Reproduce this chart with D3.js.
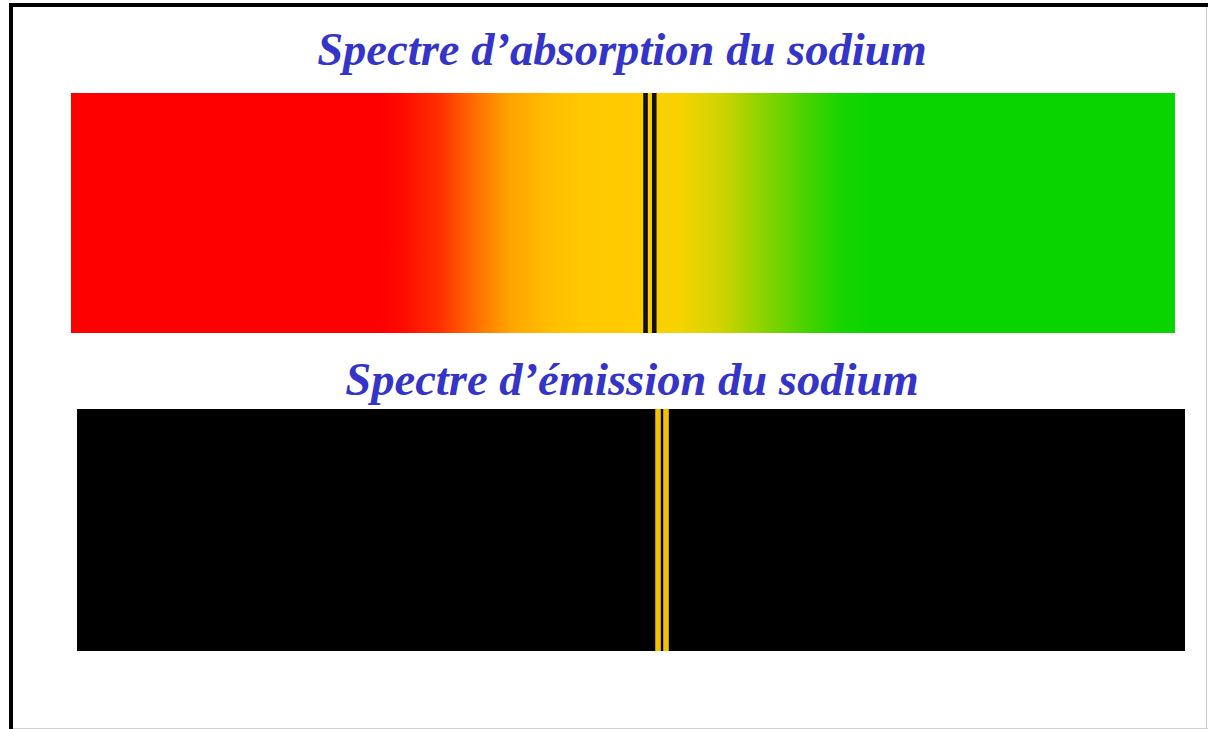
<!DOCTYPE html>
<html>
<head>
<meta charset="utf-8">
<script src="https://cdn.jsdelivr.net/npm/d3@7"></script>
<style>
  html, body { margin: 0; padding: 0; background: #fff; }
  svg { display: block; }
  .title { font-family: "Liberation Serif", "Times New Roman", serif; font-weight: bold; font-style: italic; fill: #3434c8; }
</style>
</head>
<body>
<div id="chart"></div>
<script>
// titles
let titles = ["Spectre d\u2019absorption du sodium", "Spectre d\u2019\u00e9mission du sodium"];

// continuous spectrum colour stops (position along band, 0 = left / red, 1 = right / green)
let stopPos = [0, 0.280, 0.298, 0.334, 0.370, 0.398, 0.434, 0.461, 0.515, 0.552, 0.588, 0.624, 0.660, 0.697, 0.724, 1];
let stopColors = ["#ff0000", "#ff0000", "#ff0800", "#ff3000", "#ff7500", "#ffa500", "#ffbe00", "#ffc800",
                  "#ffcc00", "#f5d300", "#d0d300", "#90d300", "#50d300", "#18d400", "#0ad400", "#0ad400"];

// sodium D lines, position along band
let absLines = [0.5204, 0.5283];
let emiLines = [0.5244, 0.5316];

let W = 1208, H = 729;
let svg = d3.select("#chart").append("svg")
  .attr("width", W).attr("height", H);

// frame
svg.append("line").attr("x1", 11).attr("y1", 5).attr("x2", W).attr("y2", 5)
  .attr("stroke", "#000").attr("stroke-width", 4);
svg.append("line").attr("x1", 11).attr("y1", 3).attr("x2", 11).attr("y2", H)
  .attr("stroke", "#000").attr("stroke-width", 4);
svg.append("line").attr("x1", W - 1.5).attr("y1", 7).attr("x2", W - 1.5).attr("y2", H)
  .attr("stroke", "#c8c8c8").attr("stroke-width", 1);
svg.append("line").attr("x1", 13).attr("y1", H - 0.5).attr("x2", W).attr("y2", H - 0.5)
  .attr("stroke", "#d0d0d0").attr("stroke-width", 1);

// gradient
let defs = svg.append("defs");
let grad = defs.append("linearGradient").attr("id", "spec")
  .attr("x1", "0%").attr("x2", "100%").attr("y1", "0%").attr("y2", "0%");
grad.selectAll("stop").data(stopPos).enter().append("stop")
  .attr("offset", d => (d * 100) + "%")
  .attr("stop-color", (d, i) => stopColors[i]);

// absorption panel
let xa = d3.scaleLinear().domain([0, 1]).range([71, 1175]);
let ya = d3.scaleLinear().domain([0, 1]).range([93, 333]);
svg.append("rect")
  .attr("x", xa(0)).attr("y", ya(0))
  .attr("width", xa(1) - xa(0)).attr("height", ya(1) - ya(0))
  .attr("fill", "url(#spec)");
svg.selectAll("rect.abs").data(absLines).enter().append("rect")
  .attr("class", "abs")
  .attr("x", d => xa(d) - 2.3).attr("y", ya(0))
  .attr("width", 4.6).attr("height", ya(1) - ya(0))
  .attr("fill", "#111");

// emission panel
let xe = d3.scaleLinear().domain([0, 1]).range([77, 1185]);
let ye = d3.scaleLinear().domain([0, 1]).range([409, 651]);
svg.append("rect")
  .attr("x", xe(0)).attr("y", ye(0))
  .attr("width", xe(1) - xe(0)).attr("height", ye(1) - ye(0))
  .attr("fill", "#000");
svg.selectAll("rect.emi").data(emiLines).enter().append("rect")
  .attr("class", "emi")
  .attr("x", d => xe(d) - 2.8).attr("y", ye(0))
  .attr("width", 5.6).attr("height", ye(1) - ye(0))
  .attr("fill", "#f0c200");

// titles
svg.append("text").attr("class", "title")
  .attr("x", 622).attr("y", 65).attr("text-anchor", "middle")
  .attr("font-size", 46.6).text(titles[0]);
svg.append("text").attr("class", "title")
  .attr("x", 632).attr("y", 395).attr("text-anchor", "middle")
  .attr("font-size", 46.6).text(titles[1]);
</script>
</body>
</html>
